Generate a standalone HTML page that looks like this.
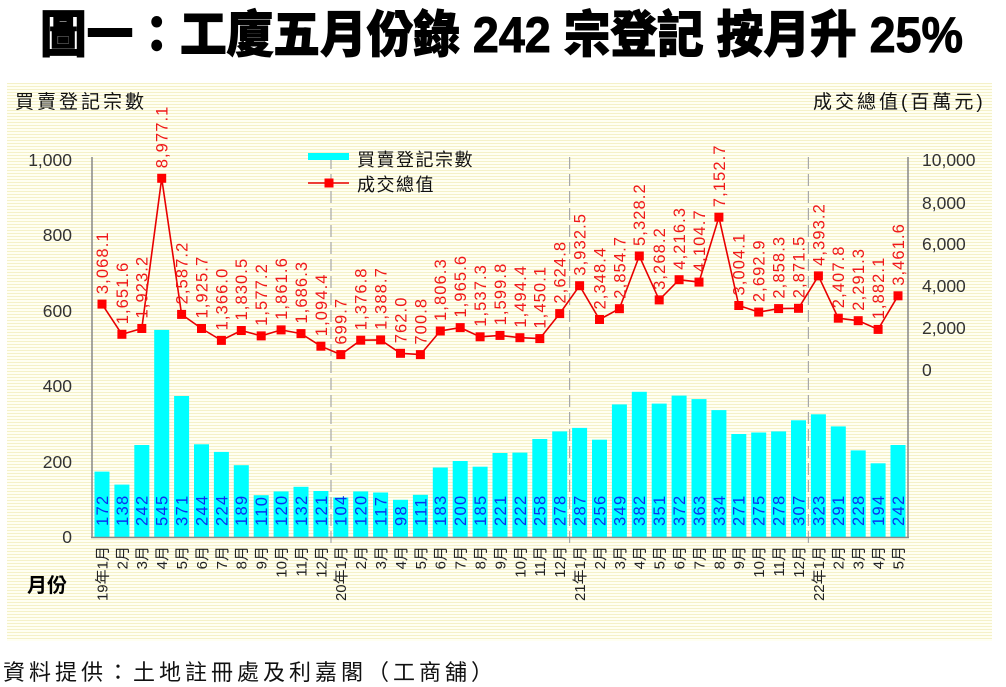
<!DOCTYPE html>
<html><head><meta charset="utf-8"><style>
html,body{margin:0;padding:0;background:#fff;}
svg{display:block;}
.t{font-family:"Liberation Sans","Noto Sans CJK TC",sans-serif;}
.bl{font-family:"Liberation Sans",sans-serif;font-size:16.5px;fill:#0a32f0;letter-spacing:1.3px;}
.ll{font-family:"Liberation Sans",sans-serif;font-size:16.5px;fill:#f01818;letter-spacing:1.1px;}
.xl{font-family:"Liberation Sans","Noto Sans CJK TC",sans-serif;font-size:15px;fill:#222;}
.tk{font-family:"Liberation Sans",sans-serif;font-size:17.5px;fill:#333;}
</style></head><body>
<svg width="1006" height="687" viewBox="0 0 1006 687" xmlns="http://www.w3.org/2000/svg">
<defs>
<pattern id="st" patternUnits="userSpaceOnUse" width="6" height="3">
<rect x="0" y="0" width="6" height="3" fill="#fffff2"/>
<rect x="0" y="2" width="6" height="1" fill="#f5f1c8"/>
</pattern>
</defs>
<rect x="0" y="0" width="1006" height="687" fill="#fff"/>
<text class="t" x="40" y="52" font-size="50" font-weight="900" fill="#000" stroke="#000" stroke-width="1" textLength="923" lengthAdjust="spacingAndGlyphs">圖一：工廈五月份錄 242 宗登記  按月升 25%</text>
<rect x="7" y="83" width="985" height="558" fill="url(#st)"/>

<text class="t" x="15" y="108" font-size="19" fill="#111" letter-spacing="3">買賣登記宗數</text>
<text class="t" x="813" y="108" font-size="19" fill="#111" letter-spacing="3">成交總值(百萬元)</text>

<g class="tk" text-anchor="end">
<text x="72" y="166">1,000</text>
<text x="72" y="241">800</text>
<text x="72" y="317">600</text>
<text x="72" y="392">400</text>
<text x="72" y="468">200</text>
<text x="72" y="543">0</text>
</g>
<g class="tk">
<text x="922" y="166">10,000</text>
<text x="922" y="209">8,000</text>
<text x="922" y="250">6,000</text>
<text x="922" y="292">4,000</text>
<text x="922" y="334">2,000</text>
<text x="922" y="376">0</text>
</g>

<g stroke="#a8a8a8" stroke-width="1.2" stroke-dasharray="12,5">
<line x1="331" y1="157" x2="331" y2="546"/>
<line x1="569.6" y1="157" x2="569.6" y2="546"/>
<line x1="808.4" y1="157" x2="808.4" y2="546"/>
</g>

<g fill="#00ffff">
<rect x="94.5" y="471.6" width="15" height="65.4"/>
<rect x="114.4" y="484.6" width="15" height="52.4"/>
<rect x="134.3" y="445.0" width="15" height="92.0"/>
<rect x="154.2" y="329.9" width="15" height="207.1"/>
<rect x="174.1" y="396.0" width="15" height="141.0"/>
<rect x="194.0" y="444.3" width="15" height="92.7"/>
<rect x="213.9" y="451.9" width="15" height="85.1"/>
<rect x="233.8" y="465.2" width="15" height="71.8"/>
<rect x="253.7" y="495.2" width="15" height="41.8"/>
<rect x="273.6" y="491.4" width="15" height="45.6"/>
<rect x="293.5" y="486.8" width="15" height="50.2"/>
<rect x="313.4" y="491.0" width="15" height="46.0"/>
<rect x="333.3" y="497.5" width="15" height="39.5"/>
<rect x="353.2" y="491.4" width="15" height="45.6"/>
<rect x="373.1" y="492.5" width="15" height="44.5"/>
<rect x="393.0" y="499.8" width="15" height="37.2"/>
<rect x="412.9" y="494.8" width="15" height="42.2"/>
<rect x="432.8" y="467.5" width="15" height="69.5"/>
<rect x="452.7" y="461.0" width="15" height="76.0"/>
<rect x="472.6" y="466.7" width="15" height="70.3"/>
<rect x="492.5" y="453.0" width="15" height="84.0"/>
<rect x="512.4" y="452.6" width="15" height="84.4"/>
<rect x="532.3" y="439.0" width="15" height="98.0"/>
<rect x="552.2" y="431.4" width="15" height="105.6"/>
<rect x="572.1" y="427.9" width="15" height="109.1"/>
<rect x="592.0" y="439.7" width="15" height="97.3"/>
<rect x="611.9" y="404.4" width="15" height="132.6"/>
<rect x="631.8" y="391.8" width="15" height="145.2"/>
<rect x="651.7" y="403.6" width="15" height="133.4"/>
<rect x="671.6" y="395.6" width="15" height="141.4"/>
<rect x="691.5" y="399.1" width="15" height="137.9"/>
<rect x="711.4" y="410.1" width="15" height="126.9"/>
<rect x="731.3" y="434.0" width="15" height="103.0"/>
<rect x="751.2" y="432.5" width="15" height="104.5"/>
<rect x="771.1" y="431.4" width="15" height="105.6"/>
<rect x="791.0" y="420.3" width="15" height="116.7"/>
<rect x="810.9" y="414.3" width="15" height="122.7"/>
<rect x="830.8" y="426.4" width="15" height="110.6"/>
<rect x="850.7" y="450.4" width="15" height="86.6"/>
<rect x="870.6" y="463.3" width="15" height="73.7"/>
<rect x="890.5" y="445.0" width="15" height="92.0"/>
</g>

<g class="bl" transform="translate(0.5,0)">
<text transform="translate(107.4,526) rotate(-90)">172</text>
<text transform="translate(127.3,526) rotate(-90)">138</text>
<text transform="translate(147.2,526) rotate(-90)">242</text>
<text transform="translate(167.1,526) rotate(-90)">545</text>
<text transform="translate(187.0,526) rotate(-90)">371</text>
<text transform="translate(206.9,526) rotate(-90)">244</text>
<text transform="translate(226.8,526) rotate(-90)">224</text>
<text transform="translate(246.7,526) rotate(-90)">189</text>
<text transform="translate(266.6,526) rotate(-90)">110</text>
<text transform="translate(286.5,526) rotate(-90)">120</text>
<text transform="translate(306.4,526) rotate(-90)">132</text>
<text transform="translate(326.3,526) rotate(-90)">121</text>
<text transform="translate(346.2,526) rotate(-90)">104</text>
<text transform="translate(366.1,526) rotate(-90)">120</text>
<text transform="translate(386.0,526) rotate(-90)">117</text>
<text transform="translate(405.9,526) rotate(-90)">98</text>
<text transform="translate(425.8,526) rotate(-90)">111</text>
<text transform="translate(445.7,526) rotate(-90)">183</text>
<text transform="translate(465.6,526) rotate(-90)">200</text>
<text transform="translate(485.5,526) rotate(-90)">185</text>
<text transform="translate(505.4,526) rotate(-90)">221</text>
<text transform="translate(525.3,526) rotate(-90)">222</text>
<text transform="translate(545.2,526) rotate(-90)">258</text>
<text transform="translate(565.1,526) rotate(-90)">278</text>
<text transform="translate(585.0,526) rotate(-90)">287</text>
<text transform="translate(604.9,526) rotate(-90)">256</text>
<text transform="translate(624.8,526) rotate(-90)">349</text>
<text transform="translate(644.7,526) rotate(-90)">382</text>
<text transform="translate(664.6,526) rotate(-90)">351</text>
<text transform="translate(684.5,526) rotate(-90)">372</text>
<text transform="translate(704.4,526) rotate(-90)">363</text>
<text transform="translate(724.3,526) rotate(-90)">334</text>
<text transform="translate(744.2,526) rotate(-90)">271</text>
<text transform="translate(764.1,526) rotate(-90)">275</text>
<text transform="translate(784.0,526) rotate(-90)">278</text>
<text transform="translate(803.9,526) rotate(-90)">307</text>
<text transform="translate(823.8,526) rotate(-90)">323</text>
<text transform="translate(843.7,526) rotate(-90)">291</text>
<text transform="translate(863.6,526) rotate(-90)">228</text>
<text transform="translate(883.5,526) rotate(-90)">194</text>
<text transform="translate(903.4,526) rotate(-90)">242</text>
</g>

<g stroke="#888" stroke-width="1.5" fill="none">
<line x1="92" y1="157" x2="92" y2="538"/>
<line x1="908" y1="157" x2="908" y2="538"/>
<line x1="91" y1="537.5" x2="909" y2="537.5"/>
</g>

<polyline fill="none" stroke="#e80000" stroke-width="1.6" points="102.0,304.1 121.9,334.3 141.8,328.5 161.7,178.3 181.6,314.4 201.5,328.5 221.4,340.4 241.3,330.5 261.2,335.9 281.1,329.9 301.0,333.6 320.9,346.2 340.8,354.6 360.7,340.2 380.6,339.9 400.5,353.3 420.4,354.6 440.3,331.0 460.2,327.6 480.1,336.8 500.0,335.4 519.9,337.7 539.8,338.6 559.7,313.6 579.6,285.7 599.5,319.5 619.4,308.7 639.3,256.0 659.2,299.9 679.1,279.7 699.0,282.1 718.9,217.2 738.8,305.5 758.7,312.1 778.6,308.6 798.5,308.3 818.4,275.9 838.3,318.2 858.2,320.7 878.1,329.4 898.0,295.8"/>

<g fill="#ff0000">
<rect x="97.5" y="299.6" width="9" height="9"/>
<rect x="117.4" y="329.8" width="9" height="9"/>
<rect x="137.3" y="324.0" width="9" height="9"/>
<rect x="157.2" y="173.8" width="9" height="9"/>
<rect x="177.1" y="309.9" width="9" height="9"/>
<rect x="197.0" y="324.0" width="9" height="9"/>
<rect x="216.9" y="335.9" width="9" height="9"/>
<rect x="236.8" y="326.0" width="9" height="9"/>
<rect x="256.7" y="331.4" width="9" height="9"/>
<rect x="276.6" y="325.4" width="9" height="9"/>
<rect x="296.5" y="329.1" width="9" height="9"/>
<rect x="316.4" y="341.7" width="9" height="9"/>
<rect x="336.3" y="350.1" width="9" height="9"/>
<rect x="356.2" y="335.7" width="9" height="9"/>
<rect x="376.1" y="335.4" width="9" height="9"/>
<rect x="396.0" y="348.8" width="9" height="9"/>
<rect x="415.9" y="350.1" width="9" height="9"/>
<rect x="435.8" y="326.5" width="9" height="9"/>
<rect x="455.7" y="323.1" width="9" height="9"/>
<rect x="475.6" y="332.3" width="9" height="9"/>
<rect x="495.5" y="330.9" width="9" height="9"/>
<rect x="515.4" y="333.2" width="9" height="9"/>
<rect x="535.3" y="334.1" width="9" height="9"/>
<rect x="555.2" y="309.1" width="9" height="9"/>
<rect x="575.1" y="281.2" width="9" height="9"/>
<rect x="595.0" y="315.0" width="9" height="9"/>
<rect x="614.9" y="304.2" width="9" height="9"/>
<rect x="634.8" y="251.5" width="9" height="9"/>
<rect x="654.7" y="295.4" width="9" height="9"/>
<rect x="674.6" y="275.2" width="9" height="9"/>
<rect x="694.5" y="277.6" width="9" height="9"/>
<rect x="714.4" y="212.7" width="9" height="9"/>
<rect x="734.3" y="301.0" width="9" height="9"/>
<rect x="754.2" y="307.6" width="9" height="9"/>
<rect x="774.1" y="304.1" width="9" height="9"/>
<rect x="794.0" y="303.8" width="9" height="9"/>
<rect x="813.9" y="271.4" width="9" height="9"/>
<rect x="833.8" y="313.7" width="9" height="9"/>
<rect x="853.7" y="316.2" width="9" height="9"/>
<rect x="873.6" y="324.9" width="9" height="9"/>
<rect x="893.5" y="291.3" width="9" height="9"/>
</g>

<g class="ll" transform="translate(0.5,0)">
<text transform="translate(107.4,294.1) rotate(-90)">3,068.1</text>
<text transform="translate(127.3,324.3) rotate(-90)">1,651.6</text>
<text transform="translate(147.2,318.5) rotate(-90)">1,923.2</text>
<text transform="translate(167.1,168.3) rotate(-90)">8,977.1</text>
<text transform="translate(187.0,304.4) rotate(-90)">2,587.2</text>
<text transform="translate(206.9,318.5) rotate(-90)">1,925.7</text>
<text transform="translate(226.8,330.4) rotate(-90)">1,366.0</text>
<text transform="translate(246.7,320.5) rotate(-90)">1,830.5</text>
<text transform="translate(266.6,325.9) rotate(-90)">1,577.2</text>
<text transform="translate(286.5,319.9) rotate(-90)">1,861.6</text>
<text transform="translate(306.4,323.6) rotate(-90)">1,686.3</text>
<text transform="translate(326.3,336.2) rotate(-90)">1,094.4</text>
<text transform="translate(346.2,344.6) rotate(-90)">699.7</text>
<text transform="translate(366.1,330.2) rotate(-90)">1,376.8</text>
<text transform="translate(386.0,329.9) rotate(-90)">1,388.7</text>
<text transform="translate(405.9,343.3) rotate(-90)">762.0</text>
<text transform="translate(425.8,344.6) rotate(-90)">700.8</text>
<text transform="translate(445.7,321.0) rotate(-90)">1,806.3</text>
<text transform="translate(465.6,317.6) rotate(-90)">1,965.6</text>
<text transform="translate(485.5,326.8) rotate(-90)">1,537.3</text>
<text transform="translate(505.4,325.4) rotate(-90)">1,599.8</text>
<text transform="translate(525.3,327.7) rotate(-90)">1,494.4</text>
<text transform="translate(545.2,328.6) rotate(-90)">1,450.1</text>
<text transform="translate(565.1,303.6) rotate(-90)">2,624.8</text>
<text transform="translate(585.0,275.7) rotate(-90)">3,932.5</text>
<text transform="translate(604.9,309.5) rotate(-90)">2,348.4</text>
<text transform="translate(624.8,298.7) rotate(-90)">2,854.7</text>
<text transform="translate(644.7,246.0) rotate(-90)">5,328.2</text>
<text transform="translate(664.6,289.9) rotate(-90)">3,268.2</text>
<text transform="translate(684.5,269.7) rotate(-90)">4,216.3</text>
<text transform="translate(704.4,272.1) rotate(-90)">4,104.7</text>
<text transform="translate(724.3,207.2) rotate(-90)">7,152.7</text>
<text transform="translate(744.2,295.5) rotate(-90)">3,004.1</text>
<text transform="translate(764.1,302.1) rotate(-90)">2,692.9</text>
<text transform="translate(784.0,298.6) rotate(-90)">2,858.3</text>
<text transform="translate(803.9,298.3) rotate(-90)">2,871.5</text>
<text transform="translate(823.8,265.9) rotate(-90)">4,393.2</text>
<text transform="translate(843.7,308.2) rotate(-90)">2,407.8</text>
<text transform="translate(863.6,310.7) rotate(-90)">2,291.3</text>
<text transform="translate(883.5,319.4) rotate(-90)">1,882.1</text>
<text transform="translate(903.4,285.8) rotate(-90)">3,461.6</text>
</g>

<g class="xl" text-anchor="end">
<text transform="translate(107.4,546) rotate(-90)">19年1月</text>
<text transform="translate(127.3,546) rotate(-90)">2月</text>
<text transform="translate(147.2,546) rotate(-90)">3月</text>
<text transform="translate(167.1,546) rotate(-90)">4月</text>
<text transform="translate(187.0,546) rotate(-90)">5月</text>
<text transform="translate(206.9,546) rotate(-90)">6月</text>
<text transform="translate(226.8,546) rotate(-90)">7月</text>
<text transform="translate(246.7,546) rotate(-90)">8月</text>
<text transform="translate(266.6,546) rotate(-90)">9月</text>
<text transform="translate(286.5,546) rotate(-90)">10月</text>
<text transform="translate(306.4,546) rotate(-90)">11月</text>
<text transform="translate(326.3,546) rotate(-90)">12月</text>
<text transform="translate(346.2,546) rotate(-90)">20年1月</text>
<text transform="translate(366.1,546) rotate(-90)">2月</text>
<text transform="translate(386.0,546) rotate(-90)">3月</text>
<text transform="translate(405.9,546) rotate(-90)">4月</text>
<text transform="translate(425.8,546) rotate(-90)">5月</text>
<text transform="translate(445.7,546) rotate(-90)">6月</text>
<text transform="translate(465.6,546) rotate(-90)">7月</text>
<text transform="translate(485.5,546) rotate(-90)">8月</text>
<text transform="translate(505.4,546) rotate(-90)">9月</text>
<text transform="translate(525.3,546) rotate(-90)">10月</text>
<text transform="translate(545.2,546) rotate(-90)">11月</text>
<text transform="translate(565.1,546) rotate(-90)">12月</text>
<text transform="translate(585.0,546) rotate(-90)">21年1月</text>
<text transform="translate(604.9,546) rotate(-90)">2月</text>
<text transform="translate(624.8,546) rotate(-90)">3月</text>
<text transform="translate(644.7,546) rotate(-90)">4月</text>
<text transform="translate(664.6,546) rotate(-90)">5月</text>
<text transform="translate(684.5,546) rotate(-90)">6月</text>
<text transform="translate(704.4,546) rotate(-90)">7月</text>
<text transform="translate(724.3,546) rotate(-90)">8月</text>
<text transform="translate(744.2,546) rotate(-90)">9月</text>
<text transform="translate(764.1,546) rotate(-90)">10月</text>
<text transform="translate(784.0,546) rotate(-90)">11月</text>
<text transform="translate(803.9,546) rotate(-90)">12月</text>
<text transform="translate(823.8,546) rotate(-90)">22年1月</text>
<text transform="translate(843.7,546) rotate(-90)">2月</text>
<text transform="translate(863.6,546) rotate(-90)">3月</text>
<text transform="translate(883.5,546) rotate(-90)">4月</text>
<text transform="translate(903.4,546) rotate(-90)">5月</text>
</g>

<text class="t" x="27" y="592" font-size="20" font-weight="700" fill="#000">月份</text>

<rect x="308" y="153" width="41" height="7" fill="#00ffff"/>
<text class="t" x="357" y="166" font-size="18" fill="#111" letter-spacing="1.5">買賣登記宗數</text>
<line x1="308" y1="183" x2="349" y2="183" stroke="#e80000" stroke-width="1.6"/>
<rect x="324.5" y="178.5" width="9" height="9" fill="#ff0000"/>
<text class="t" x="357" y="191" font-size="18" fill="#111" letter-spacing="1.5">成交總值</text>

<text class="t" x="3" y="680" font-size="22" fill="#111" letter-spacing="4">資料提供：土地註冊處及利嘉閣（工商舖）</text>
</svg>
</body></html>
